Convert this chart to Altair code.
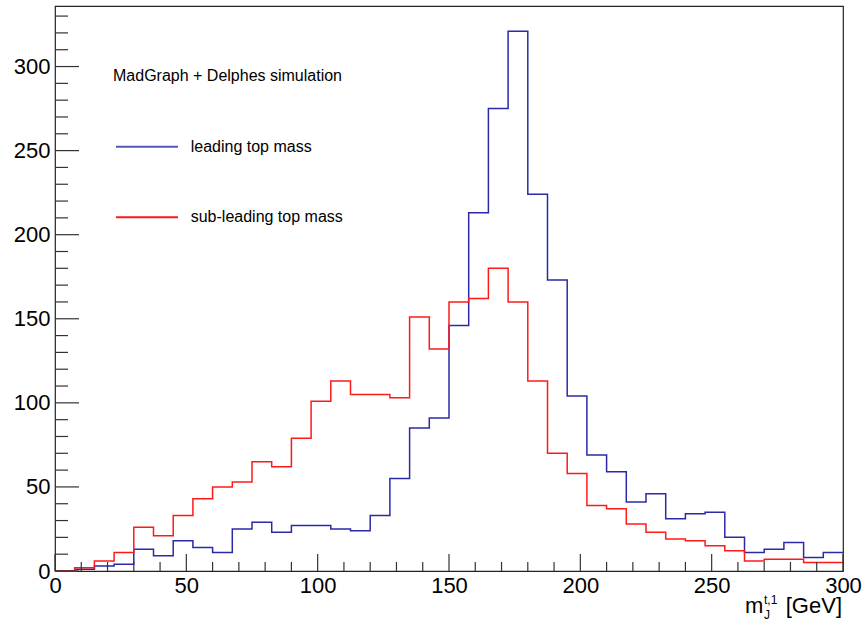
import altair as alt
import pandas as pd
import numpy as np

# Histogram bins: 40 bins of 7.5 GeV from 0 to 300
bin_width = 7.5
n_bins = 40

leading = [0, 1, 3, 4, 13, 9, 18, 14, 11, 25,
           29, 23, 27, 27, 25, 24, 33, 55, 85, 91,
           146, 213, 275, 321, 224, 173, 104, 69, 59, 41,
           46, 31, 34, 35, 20, 11, 13, 17, 8, 11]

subleading = [0, 2, 6, 11, 26, 21, 33, 43, 50, 53,
              65, 62, 79, 101, 113, 105, 105, 103, 151, 132,
              160, 162, 180, 160, 113, 70, 58, 39, 37, 28,
              23, 19, 18, 15, 12, 6, 7, 7, 5, 5]

x_major = [0, 50, 100, 150, 200, 250, 300]
x_minor = [v for v in range(0, 301, 10) if v % 50 != 0]
y_major = [0, 50, 100, 150, 200, 250, 300]
y_minor = [v for v in range(0, 331, 10) if v % 50 != 0]

FONT = "Liberation Sans"
W, H = 788, 565
BLUE = "#2a2aa8"
RED = "#ff1a1a"


def step_df(vals):
    edges = [i * bin_width for i in range(n_bins + 1)]
    return pd.DataFrame({"x": edges, "y": list(vals) + [vals[-1]]})


xs = alt.Scale(domain=[0, 300], nice=False, zero=False)
ys = alt.Scale(domain=[0, 336], nice=False, zero=True)

xaxis = alt.Axis(values=x_major, ticks=False, domain=False, grid=False,
                 labelFontSize=22, labelFont=FONT, labelColor="black",
                 labelPadding=4, title=None, labelFlush=False)
yaxis = alt.Axis(values=y_major, ticks=False, domain=False, grid=False,
                 labelFontSize=22, labelFont=FONT, labelColor="black",
                 labelPadding=5, title=None, labelFlush=False)

blue_line = alt.Chart(step_df(leading)).mark_line(
    interpolate="step-after", color=BLUE, strokeWidth=1.5
).encode(
    x=alt.X("x:Q", scale=xs, axis=xaxis),
    y=alt.Y("y:Q", scale=ys, axis=yaxis),
)

red_line = alt.Chart(step_df(subleading)).mark_line(
    interpolate="step-after", color=RED, strokeWidth=1.5
).encode(
    x=alt.X("x:Q", scale=xs),
    y=alt.Y("y:Q", scale=ys),
)

TICK = "#333333"
ymaj = alt.Chart(pd.DataFrame({"y": y_major})).mark_rule(color=TICK, strokeWidth=1.2).encode(
    y=alt.Y("y:Q", scale=ys), x=alt.value(0), x2=alt.value(24))
ymin = alt.Chart(pd.DataFrame({"y": y_minor})).mark_rule(color=TICK, strokeWidth=1.2).encode(
    y=alt.Y("y:Q", scale=ys), x=alt.value(0), x2=alt.value(13))
xmaj = alt.Chart(pd.DataFrame({"x": x_major})).mark_rule(color=TICK, strokeWidth=1.2).encode(
    x=alt.X("x:Q", scale=xs), y=alt.value(H), y2=alt.value(H - 17))
xmin = alt.Chart(pd.DataFrame({"x": x_minor})).mark_rule(color=TICK, strokeWidth=1.2).encode(
    x=alt.X("x:Q", scale=xs), y=alt.value(H), y2=alt.value(H - 9))

# Legend (inside the frame, ROOT style)
leg_title = alt.Chart(pd.DataFrame({"t": ["MadGraph + Delphes simulation"]})).mark_text(
    align="left", baseline="alphabetic", font=FONT, fontSize=16, color="black"
).encode(text="t:N", x=alt.value(58), y=alt.value(75))

leg_blue = alt.Chart(pd.DataFrame({"a": [0]})).mark_rule(color=BLUE, strokeWidth=2, opacity=0.8).encode(
    x=alt.value(61), x2=alt.value(123), y=alt.value(140.7))
leg_red = alt.Chart(pd.DataFrame({"a": [0]})).mark_rule(color=RED, strokeWidth=2).encode(
    x=alt.value(61), x2=alt.value(123), y=alt.value(211.3))
leg_blue_t = alt.Chart(pd.DataFrame({"t": ["leading top mass"]})).mark_text(
    align="left", baseline="alphabetic", font=FONT, fontSize=16, color="black"
).encode(text="t:N", x=alt.value(135.7), y=alt.value(146))
leg_red_t = alt.Chart(pd.DataFrame({"t": ["sub-leading top mass"]})).mark_text(
    align="left", baseline="alphabetic", font=FONT, fontSize=16, color="black"
).encode(text="t:N", x=alt.value(135.7), y=alt.value(216))

# Axis title m_J^{t,1} [GeV]
def txt(s, x, y, size, align="left"):
    return alt.Chart(pd.DataFrame({"t": [s]})).mark_text(
        align=align, baseline="alphabetic", font=FONT, fontSize=size, color="black"
    ).encode(text="t:N", x=alt.value(x), y=alt.value(y))

t_m = txt("m", 690, 607, 22)
t_sup = txt("t,1", 709, 598, 12)
t_sub = txt("J", 709, 613, 12)
t_gev = txt("[GeV]", 787, 607, 22, align="right")

chart = alt.layer(
    blue_line, red_line, ymaj, ymin, xmaj, xmin,
    leg_title, leg_blue, leg_red, leg_blue_t, leg_red_t,
    t_m, t_sup, t_sub, t_gev,
).properties(
    width=W, height=H,
    autosize=alt.AutoSizeParams(type="none"),
    padding={"left": 55, "top": 6, "right": 22, "bottom": 58},
    background="white",
).configure_view(stroke="#222222", strokeWidth=1.2)

chart.save("out.html", embed_options={"renderer": "svg", "actions": False})
